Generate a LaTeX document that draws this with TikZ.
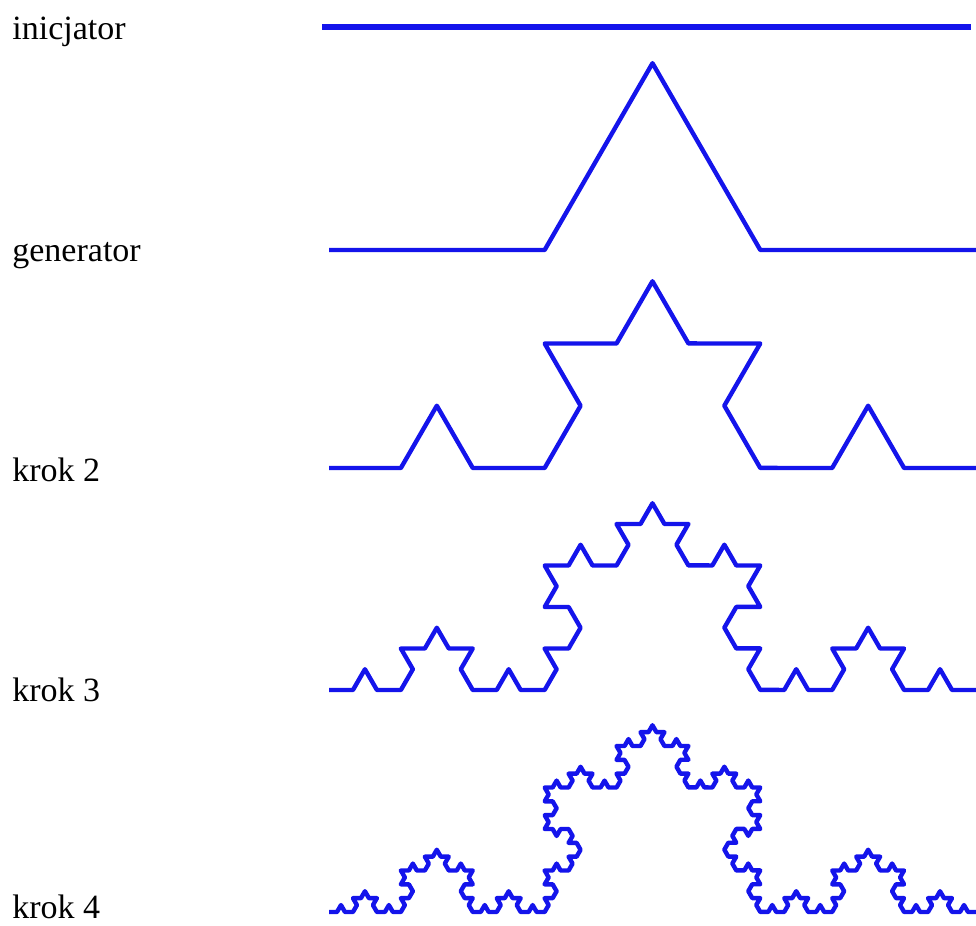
\documentclass[tikz,border=0pt]{standalone}
\usepackage{fontspec}
\setmainfont{Liberation Serif}
\usetikzlibrary{decorations.fractals}
\definecolor{cKoch}{RGB}{20,20,235}

\begin{document}
\begin{tikzpicture}[x=0.5pt,y=0.5pt,
  stage/.style={anchor=base west,inner sep=0pt,font=\fontsize{17}{20}\selectfont},
  koch/.style={cKoch,line width=2.2pt,line join=round,decoration=Koch snowflake}]
  \useasboundingbox (0,0) rectangle (976,926);
  % podpisy
  \node[stage] (lInit) at (12,886) {inicjator};
  \node[stage] (lGen) at (12,664) {generator};
  \node[stage] (lK2) at (12,444) {krok 2};
  \node[stage] (lK3) at (12,224) {krok 3};
  \node[stage] (lK4) at (12,7) {krok 4};
  % krzywa Kocha
  \draw[cKoch,line width=3pt] (322,899) -- (971,899);
  \draw[koch] decorate{(329,676) -- (976,676)};
  \draw[koch] decorate{decorate{(329,458) -- (976,458)}};
  \draw[koch] decorate{decorate{decorate{(329,236) -- (976,236)}}};
  \draw[koch] decorate{decorate{decorate{decorate{(329,14) -- (976,14)}}}};
\end{tikzpicture}
\end{document}
